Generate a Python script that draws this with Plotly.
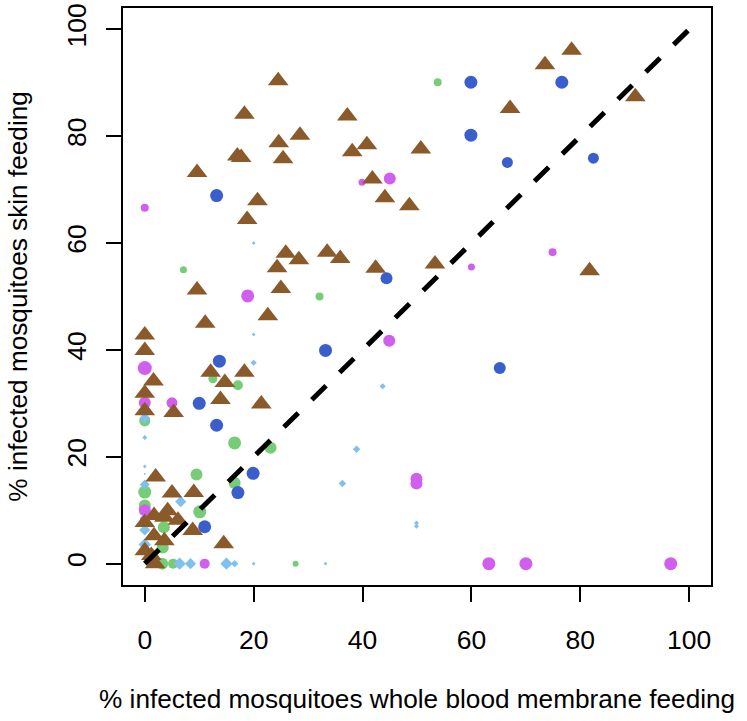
import plotly.graph_objects as go

# ---- data ----
tri_x = [24.5, 18.3, 28.5, 24.6, 17.0, 17.7, 25.4, 9.6, 20.7, 18.8, 25.9, 28.3, 24.3, 9.6, 25.0, 22.6,
         67.1, 37.2, 40.8, 38.1, 50.7, 41.8, 44.1, 48.6, 33.5, 35.9, 42.4, 53.3, 78.4, 73.5, 90.1, 81.7,
         11.1, 0, 0, 1.6, 12.1, 14.7, 18.3, 0, 13.9, 21.4, 0, 5.3, 2.0, 5.0, 9.0, 4.2, 1.7, 3.6, 6.1,
         0, 8.8, 1.7, 3.6, 0, 1.2, 14.5, 1.9]
tri_y = [90.4, 84.1, 80.2, 78.8, 76.3, 76.0, 75.8, 73.2, 67.9, 64.4, 58.1, 56.9, 55.4, 51.2, 51.5, 46.4,
         85.2, 83.8, 78.4, 77.1, 77.6, 72.0, 68.5, 67.0, 58.3, 57.1, 55.3, 56.1, 96.1, 93.4, 87.4, 54.8,
         45.0, 42.8, 39.9, 34.2, 35.8, 33.9, 35.8, 31.9, 30.7, 29.9, 28.6, 28.3, 16.2, 13.2, 13.3, 9.9,
         9.0, 8.7, 8.1, 7.7, 6.2, 5.2, 4.3, 2.4, 1.5, 3.7, 0.0]

blue_x = [13.2, 59.9, 59.9, 66.6, 76.6, 82.4, 44.4, 33.2, 65.2, 13.7, 10.0, 13.2, 19.9, 17.1, 11.0]
blue_y = [68.9, 90.1, 80.2, 75.1, 90.1, 75.9, 53.4, 39.9, 36.6, 37.9, 30.0, 25.9, 16.9, 13.3, 6.9]
blue_s = [13, 13, 13, 11, 13, 11, 12, 13, 12, 13, 13, 13, 13, 13, 13]

mag_x = [0, 18.9, 39.9, 45.0, 44.9, 60.0, 74.9, 49.9, 49.9, 63.2, 70.0, 96.6, 0, 0, 5.0, 0, 0, 11.0]
mag_y = [66.6, 50.1, 71.4, 72.1, 41.7, 55.5, 58.3, 15.9, 15.0, 0, 0, 0, 36.6, 30.1, 30.1, 10.0, 8.1, 0]
mag_s = [8, 13, 7, 12, 12, 7, 8, 12, 12, 13, 13, 13, 14, 12, 11, 12, 10, 10]

grn_x = [53.8, 7.1, 32.1, 12.5, 17.1, 0, 16.5, 23.1, 16.5, 9.5, 0, 0, 10.1, 3.5, 3.3, 3.2, 5.2, 27.7]
grn_y = [90.1, 55.0, 50.0, 34.6, 33.4, 26.7, 22.6, 21.7, 15.1, 16.7, 13.4, 10.9, 9.7, 6.8, 3.0, 0, 0, 0]
grn_s = [8, 7, 8, 9, 10, 11, 13, 12, 12, 12, 13, 12, 13, 12, 12, 12, 10, 6]

lb_x = [20.0, 20.0, 20.0, 0, 0, 0, 0, 0, 6.6, 0, 0, 0, 6.4, 8.4, 15.0, 16.5, 20.0, 33.2,
        43.7, 38.9, 36.3, 49.9, 49.9]
lb_y = [60.0, 42.9, 37.6, 27.2, 23.6, 18.2, 16.8, 14.8, 11.6, 8.0, 6.3, 3.6, 0, 0, 0, 0, 0, 0,
        33.2, 21.4, 15.0, 7.6, 7.0]
lb_s = [3, 3, 5, 9, 4, 3, 2, 8, 9, 8, 9, 10, 10, 9, 10, 6, 3, 3,
        5, 6, 6, 4, 4]

line_x = [0, 100]
line_y = [0, 100]

x_ticks = [0, 20, 40, 60, 80, 100]
y_ticks = [0, 20, 40, 60, 80, 100]

FONT = "Liberation Sans, Arial, sans-serif"

fig = go.Figure()

fig.add_trace(go.Scatter(x=grn_x, y=grn_y, mode="markers",
                         marker=dict(symbol="circle", color="#77CC77", size=grn_s, opacity=1,
                                     line=dict(width=0))))
fig.add_trace(go.Scatter(x=mag_x, y=mag_y, mode="markers",
                         marker=dict(symbol="circle", color="#D15FEE", size=mag_s, opacity=1,
                                     line=dict(width=0))))
fig.add_trace(go.Scatter(x=blue_x, y=blue_y, mode="markers",
                         marker=dict(symbol="circle", color="#3A5FCD", size=blue_s, opacity=1,
                                     line=dict(width=0))))
fig.add_trace(go.Scatter(x=lb_x, y=lb_y, mode="markers",
                         marker=dict(symbol="diamond", color="#7EC0EE", opacity=1,
                                     size=[s * 0.95 for s in lb_s], line=dict(width=0))))
fig.add_trace(go.Scatter(x=tri_x, y=tri_y, mode="markers",
                         marker=dict(symbol="triangle-up", color="#8B5A2B", size=18, opacity=1,
                                     line=dict(width=0))))
fig.add_trace(go.Scatter(x=line_x, y=line_y, mode="lines",
                         line=dict(color="black", width=5, dash="20px,19px")))

axis_common = dict(
    range=[-4, 104], showgrid=False, zeroline=False, automargin=False,
    showline=True, linecolor="black", linewidth=2, mirror=True,
    ticks="outside", ticklen=15, tickwidth=2, tickcolor="black",
    tickfont=dict(family=FONT, size=26.5, color="black"),
)

fig.update_xaxes(**axis_common, tickvals=x_ticks, ticktext=[str(v) for v in x_ticks],
                 ticklabelstandoff=15)
fig.update_yaxes(**axis_common, tickvals=y_ticks, ticktext=[str(v) for v in y_ticks],
                 tickangle=-90, ticklabelstandoff=9)

fig.update_layout(
    width=747, height=721,
    margin=dict(l=123, r=36, t=8, b=136, pad=0),
    paper_bgcolor="white", plot_bgcolor="white",
    showlegend=False,
    hovermode=False,
    font=dict(family=FONT, color="black"),
    annotations=[
        dict(text="% infected mosquitoes whole blood membrane feeding", xref="paper", yref="paper",
             x=0.5, y=-0.198, xanchor="center", yanchor="middle", showarrow=False,
             font=dict(family=FONT, size=26.2, color="black")),
        dict(text="% infected mosquitoes skin feeding", xref="paper", yref="paper",
             x=-0.18, y=0.5, xanchor="center", yanchor="middle", showarrow=False, textangle=-90,
             font=dict(family=FONT, size=26.2, color="black")),
    ],
)

fig.write_html("out.html",
               config={"displayModeBar": False, "staticPlot": True},
               post_script="document.body.style.margin='0px';document.body.style.padding='0px';"
                           "document.body.style.overflow='hidden';")
